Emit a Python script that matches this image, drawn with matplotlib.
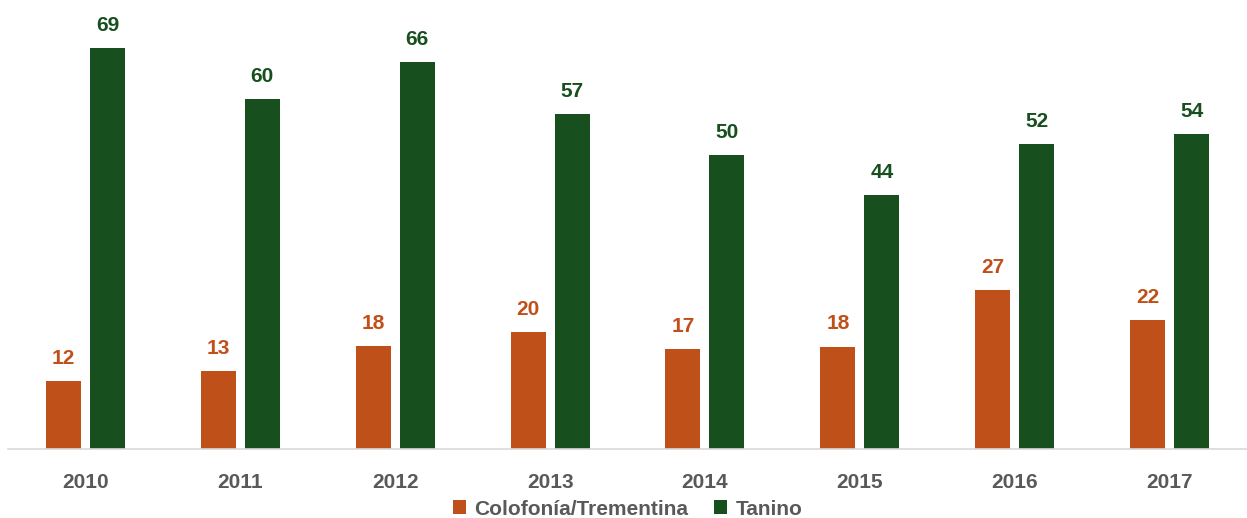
import matplotlib.pyplot as plt
import numpy as np

years = ["2010", "2011", "2012", "2013", "2014", "2015", "2016", "2017"]
colofonia = [11.65, 13.37, 17.65, 20.1, 17.13, 17.55, 27.24, 22.1]
tanino = [68.76, 59.97, 66.26, 57.4, 50.43, 43.57, 52.26, 53.92]

orange = "#C0501A"
green = "#17501E"
gray = "#595959"

plt.rcParams["font.family"] = ["Liberation Sans", "DejaVu Sans"]

fig = plt.figure(figsize=(12.47, 5.18), dpi=100)
ax = fig.add_axes([8 / 1247, 69 / 518, 1 - 8 / 1247, 449 / 518])

x = np.arange(len(years))
w = 0.226
off = 0.142
b1 = ax.bar(x - off, colofonia, w, color=orange, label="Colofonía/Trementina")
b2 = ax.bar(x + off, tanino, w, color=green, label="Tanino")

for bars, col in ((b1, orange), (b2, green)):
    for rect in bars:
        h = rect.get_height()
        ax.annotate(f"{h:.0f}", (rect.get_x() + rect.get_width() / 2, h),
                    xytext=(0, 9.5), textcoords="offset points",
                    ha="center", va="bottom", fontsize=15, fontweight="bold", color=col)

ax.set_xlim(-0.5, 7.5)
ax.set_ylim(0, 76.94)
ax.set_xticks(x)
ax.set_xticklabels(years, fontsize=15, fontweight="bold", color=gray)
ax.tick_params(axis="x", length=0, pad=17)
ax.set_yticks([])
for s in ("top", "right", "left"):
    ax.spines[s].set_visible(False)
ax.spines["bottom"].set_color("#D9D9D9")
ax.spines["bottom"].set_linewidth(1.2)

leg = ax.legend(loc="lower center", bbox_to_anchor=(0.5, -0.197), ncol=2, frameon=False,
                handlelength=0.65, handleheight=0.65, handletextpad=0.4, columnspacing=1.2,
                prop={"size": 15, "weight": "bold"})
for t in leg.get_texts():
    t.set_color(gray)

fig.savefig("out.png", dpi=100)
